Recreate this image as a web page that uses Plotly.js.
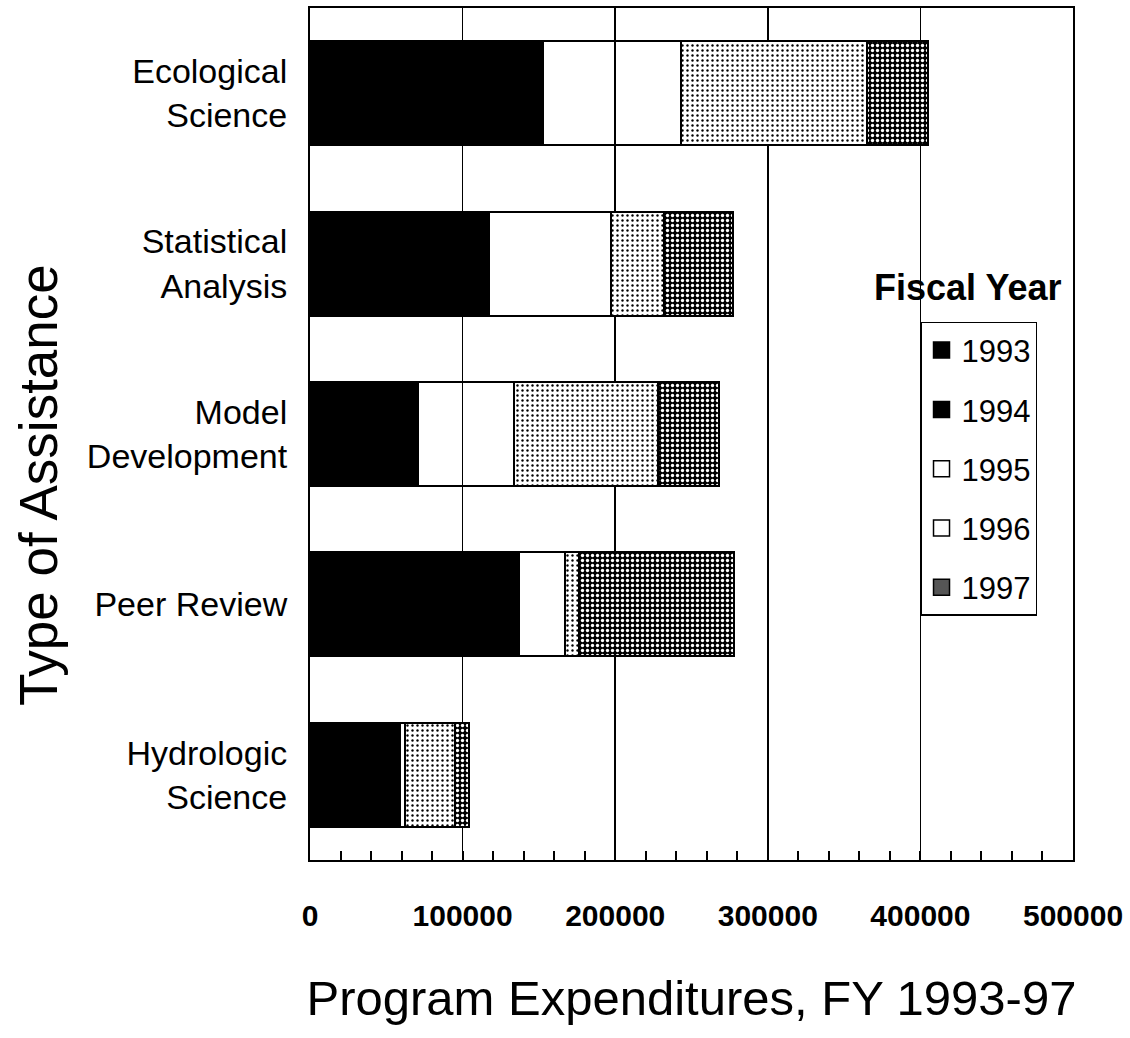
<!DOCTYPE html>
<html>
<head>
<meta charset="utf-8">
<script src="https://cdn.plot.ly/plotly-3.0.1.min.js"></script>
<style>
  html, body { margin: 0; padding: 0; background: #fff; }
  #chart { width: 1130px; height: 1038px; }
</style>
</head>
<body>
<div id="chart"></div>
<script>
// ---- Data ----
const categories = [
  "Ecological<br>Science",
  "Statistical<br>Analysis",
  "Model<br>Development",
  "Peer Review",
  "Hydrologic<br>Science"
];
const years = ["1993", "1994", "1995", "1996", "1997"];
const fy1993 = [72000, 38000, 53000, 58000, 46000];
const fy1994 = [81000, 79000, 18000, 79000, 13000];
const fy1995 = [90000, 80000, 63000, 30000, 3000];
const fy1996 = [122000, 35000, 94000, 9000, 33000];
const fy1997 = [40000, 45000, 40000, 102000, 9000];
const xTickVals = [0, 100000, 200000, 300000, 400000, 500000];
const xTickText = ["0", "100000", "200000", "300000", "400000", "500000"];

const series = [fy1993, fy1994, fy1995, fy1996, fy1997];

const SANS = "'Liberation Sans', Arial, Helvetica, sans-serif";

const barStyles = [
  { color: "#000000" },
  { color: "#000000" },
  { color: "rgba(255,255,255,0)" },
  { color: "#000000", pattern: { shape: ".", fgcolor: "#000000", bgcolor: "#ffffff", size: 5, solidity: 0.18 } },
  { color: "#000000", pattern: { shape: ".", fgcolor: "#ffffff", bgcolor: "#000000", size: 5, solidity: 0.35 } }
];
const legendStyles = [
  { color: "#000000" },
  { color: "#000000" },
  { color: "#ffffff" },
  { color: "#ffffff" },
  { color: "#555555" }
];

const traces = [];
years.forEach((yr, i) => {
  const m = Object.assign({}, barStyles[i], { line: { color: "#000", width: 2 } });
  traces.push({
    type: "bar",
    orientation: "h",
    name: yr,
    y: categories,
    x: series[i],
    marker: m,
    showlegend: false,
    hoverinfo: "x+name"
  });
});
years.forEach((yr, i) => {
  traces.push({
    type: "scatter",
    mode: "markers",
    name: yr,
    legendgroup: "g" + yr,
    x: [null],
    y: [null],
    marker: { symbol: "square", size: 18, color: legendStyles[i].color, line: { color: "#000", width: 1.5 } },
    showlegend: true
  });
});

const layout = {
  width: 1130,
  height: 1038,
  paper_bgcolor: "#ffffff",
  plot_bgcolor: "#ffffff",
  margin: { l: 310, r: 57, t: 8, b: 178 },
  barmode: "stack",
  bargap: 0.39,
  showlegend: true,
  legend: {
    x: 0.7995, y: 0.6315, xanchor: "left", yanchor: "top",
    bordercolor: "#000", borderwidth: 1.5, bgcolor: "#fff",
    font: { family: SANS, size: 31, color: "#000" },
    traceorder: "grouped",
    tracegroupgap: 16,
    itemsizing: "trace"
  },
  xaxis: {
    range: [0, 500000],
    tickvals: xTickVals,
    ticktext: xTickText,
    showgrid: true,
    gridcolor: "#000",
    gridwidth: 1.5,
    zeroline: false,
    showline: true,
    linecolor: "#000",
    linewidth: 2,
    mirror: true,
    ticks: "inside",
    ticklen: 9,
    tickwidth: 2,
    tickcolor: "#000",
    minor: { dtick: 20000, tick0: 0, ticks: "inside", ticklen: 9, tickwidth: 2, tickcolor: "#000", showgrid: false },
    ticklabelstandoff: 28,
    ticklabeloverflow: "allow",
    tickfont: { family: SANS, size: 30, color: "#000", weight: "bold" },
    title: {
      text: "Program Expenditures, FY 1993-97",
      font: { family: SANS, size: 49, color: "#000" },
      standoff: 50
    },
    automargin: false,
    fixedrange: true
  },
  yaxis: {
    type: "category",
    autorange: "reversed",
    showgrid: false,
    zeroline: false,
    showline: true,
    linecolor: "#000",
    linewidth: 2,
    mirror: true,
    ticks: "",
    ticklabelstandoff: 14,
    tickfont: { family: SANS, size: 34, color: "#000" },
    automargin: false,
    fixedrange: true
  },
  annotations: [
    {
      text: "Type of Assistance",
      xref: "paper", yref: "paper",
      x: -0.3565, y: 0.44, xanchor: "center", yanchor: "middle",
      textangle: -90,
      showarrow: false,
      font: { family: SANS, size: 53, color: "#000" }
    },
    {
      text: "Fiscal Year",
      xref: "paper", yref: "paper",
      x: 0.862, y: 0.6725, xanchor: "center", yanchor: "middle",
      showarrow: false,
      font: { family: SANS, size: 36, color: "#000", weight: "bold" }
    }
  ]
};

Plotly.newPlot("chart", traces, layout, { displayModeBar: false, staticPlot: true });
</script>
</body>
</html>
